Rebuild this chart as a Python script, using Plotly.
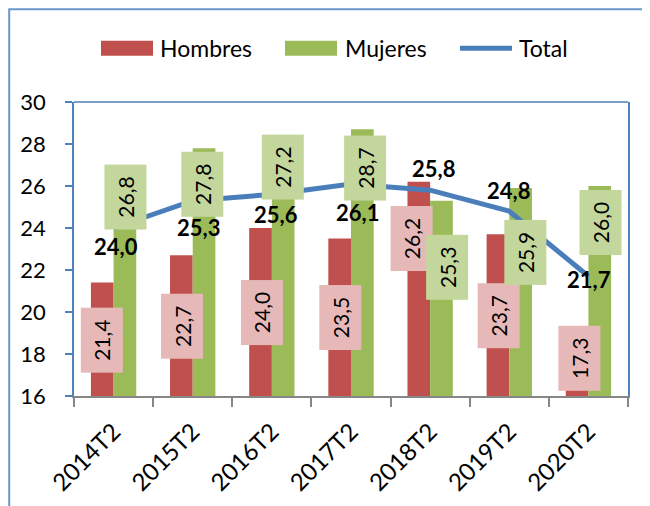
import plotly.graph_objects as go

# ---- data ----
categories = ["2014T2", "2015T2", "2016T2", "2017T2", "2018T2", "2019T2", "2020T2"]
hombres = [21.4, 22.7, 24.0, 23.5, 26.2, 23.7, 17.3]
mujeres = [26.8, 27.8, 27.2, 28.7, 25.3, 25.9, 26.0]
total = [24.0, 25.3, 25.6, 26.1, 25.8, 24.8, 21.7]
y_ticks = [16, 18, 20, 22, 24, 26, 28, 30]

# ---- label placement (box centres in data units, shifts in px) ----
hombres_label_pos = [18.67, 19.34, 19.95, 19.72, 23.49, 19.82, 17.8]
mujeres_label_pos = [25.45, 26.06, 26.91, 26.87, 22.15, 22.82, 24.25]
hombres_label_dx = [0, 1, 1, 1, -7, 1, 2]
mujeres_label_dx = [0.6, -1.5, 0, 3, 6, 5, 1]
total_label_dx = [2, 6, 4, 6, 3, -1, 1]
total_label_dy = [-18, -27, -20, -29, 22, 21, -3]

# ---- styles ----
FONT = "Lato"
C_H = "#C0504D"
C_M = "#9BBB59"
C_H_LBL = "#E6B9B8"
C_M_LBL = "#C3D69B"
C_T = "#4A7EBB"
AX_BLUE = "#4F81BD"
AX_GREY = "#868686"
BARGAP = 0.427

# page is shown with an 8px body margin: work in page px, convert to figure px
OFF = 8
W, H = 650 - OFF, 506 - OFF
PLOT_L, PLOT_R, PLOT_T, PLOT_B = 74, 628, 102, 396  # page px
ML = PLOT_L - OFF
MT = PLOT_T - OFF
MR = W - (PLOT_R - OFF)
MB = H - (PLOT_B - OFF)
PW, PH = PLOT_R - PLOT_L, PLOT_B - PLOT_T


def px_x(px):
    return (px - PLOT_L) / PW


def px_y(py):
    return (PLOT_B - py) / PH


fig = go.Figure()
fig.add_trace(go.Bar(x=categories, y=hombres, name="Hombres", marker_color=C_H,
                     marker_line_width=0, showlegend=False))
fig.add_trace(go.Bar(x=categories, y=mujeres, name="Mujeres", marker_color=C_M,
                     marker_line_width=0, showlegend=False))
fig.add_trace(go.Scatter(x=categories, y=total, name="Total", mode="lines",
                         line=dict(color=C_T, width=5), showlegend=False))


def fmt(v):
    return f"{v:.1f}".replace(".", ",")


annotations = []
bar_off = (1 - BARGAP) / 4
for i, cat in enumerate(categories):
    annotations.append(dict(
        x=i - bar_off, y=hombres_label_pos[i], xref="x", yref="y", xshift=hombres_label_dx[i],
        text=fmt(hombres[i]), showarrow=False,
        textangle=-90, width=64, height=41, borderpad=0, bgcolor=C_H_LBL,
        font=dict(family=FONT, size=21, color="black"),
        xanchor="center", yanchor="middle"))
    annotations.append(dict(
        x=i + bar_off, y=mujeres_label_pos[i], xref="x", yref="y", xshift=mujeres_label_dx[i],
        text=fmt(mujeres[i]), showarrow=False,
        textangle=-90, width=64, height=41, borderpad=0, bgcolor=C_M_LBL,
        font=dict(family=FONT, size=21, color="black"),
        xanchor="center", yanchor="middle"))
for i, cat in enumerate(categories):
    annotations.append(dict(
        x=i, y=total[i], xref="x", yref="y",
        text="<b>" + fmt(total[i]) + "</b>", showarrow=False,
        xshift=total_label_dx[i], yshift=total_label_dy[i],
        font=dict(family=FONT, size=22, color="black"),
        xanchor="center", yanchor="middle"))

# custom legend (page px)
legend_items = [("Hombres", "bar", C_H, 101, 153, 158),
                ("Mujeres", "bar", C_M, 285, 337, 343),
                ("Total", "line", C_T, 458, 514, 517)]
shapes = []
LEG_Y = 48.3
for name, kind, col, sx0, sx1, tx in legend_items:
    if kind == "bar":
        shapes.append(dict(type="rect", xref="paper", yref="paper",
                           x0=px_x(sx0), x1=px_x(sx1), y0=px_y(LEG_Y + 7.5), y1=px_y(LEG_Y - 7.5),
                           fillcolor=col, line=dict(width=0)))
    else:
        shapes.append(dict(type="line", xref="paper", yref="paper",
                           x0=px_x(sx0 + 2), x1=px_x(sx1 - 2), y0=px_y(LEG_Y), y1=px_y(LEG_Y),
                           line=dict(color=col, width=5)))
    annotations.append(dict(x=px_x(tx), y=px_y(LEG_Y), xref="paper", yref="paper",
                            text=name, showarrow=False, xanchor="left", yanchor="middle",
                            font=dict(family=FONT, size=23, color="black")))

# outer chart frame and plot top border
shapes.append(dict(type="rect", xref="paper", yref="paper",
                   x0=px_x(OFF + 1.2), x1=px_x(700), y0=px_y(560), y1=px_y(OFF + 1.2),
                   line=dict(color="#6B96CC", width=2), fillcolor="rgba(0,0,0,0)"))
shapes.append(dict(type="line", xref="paper", yref="paper", x0=0, x1=1, y0=1, y1=1,
                   line=dict(color=AX_BLUE, width=1.5)))

fig.update_layout(
    width=W, height=H,
    margin=dict(l=ML, r=MR, t=MT, b=MB, pad=0, autoexpand=False),
    paper_bgcolor="white", plot_bgcolor="white",
    barmode="group", bargap=BARGAP, bargroupgap=0,
    showlegend=False,
    font=dict(family=FONT, color="black"),
    annotations=annotations, shapes=shapes,
    xaxis=dict(type="category", showline=True, linecolor=AX_GREY, linewidth=2,
               ticks="outside", tickson="boundaries", ticklen=9, tickcolor=AX_GREY,
               tickwidth=1.5, tickangle=-45, tickfont=dict(family=FONT, size=24, color="black"),
               ticklabelstandoff=10, showgrid=False, zeroline=False),
    yaxis=dict(range=[16, 30], tickvals=y_ticks, showline=True, linecolor=AX_BLUE,
               linewidth=1.5, mirror=True, ticks="outside", ticklen=7, tickcolor=AX_BLUE,
               tickwidth=1.5, tickfont=dict(family=FONT, size=22, color="black"),
               ticklabelstandoff=15, showgrid=False, zeroline=False),
)

fig.write_html("out.html")
